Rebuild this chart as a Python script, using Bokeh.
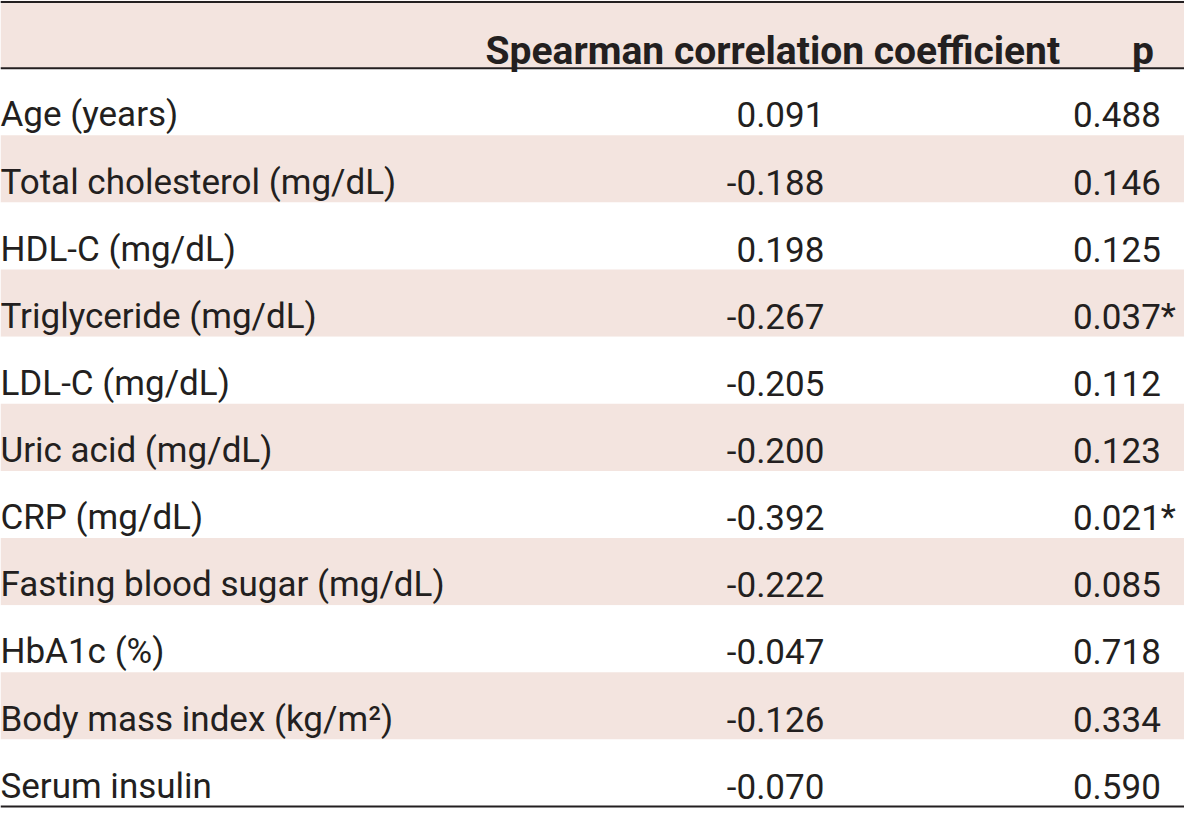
from bokeh.plotting import figure
from bokeh.models import ColumnDataSource, Range1d, Span
from bokeh.core.properties import value
from bokeh.embed import file_html
from bokeh.resources import INLINE

# ---- data ----
variables = ["Age (years)", "Total cholesterol (mg/dL)", "HDL-C (mg/dL)",
             "Triglyceride (mg/dL)", "LDL-C (mg/dL)", "Uric acid (mg/dL)",
             "CRP (mg/dL)", "Fasting blood sugar (mg/dL)", "HbA1c (%)",
             "Body mass index (kg/m\u00b2)", "Serum insulin"]
coefficients = ["0.091", "-0.188", "0.198", "-0.267", "-0.205", "-0.200",
                "-0.392", "-0.222", "-0.047", "-0.126", "-0.070"]
p_values = ["0.488", "0.146", "0.125", "0.037", "0.112", "0.123",
            "0.021", "0.085", "0.718", "0.334", "0.590"]
significant = [False, False, False, True, False, False,
               True, False, False, False, False]
headers = ["Spearman correlation coefficient", "p"]

# ---- layout (in reference pixel units) ----
W, H = 1200, 824
HEAD_TOP, HEAD_BOT, TABLE_BOT = 1.5, 69.0, 822.0
n = len(variables)
rh = (TABLE_BOT - HEAD_BOT) / n
PINK = "#f3e4df"
INK = "#231f20"
FONT = "Roboto"
FS = "35px"
HFS = "39px"

tops = [HEAD_BOT + i * rh for i in range(n)]
bots = [t + rh for t in tops]
centers = [t + rh / 2 for t in tops]
baselines = [c + 13.5 for c in centers]
fills = [PINK if i % 2 == 1 else "#ffffff" for i in range(n)]

src = ColumnDataSource(dict(
    var=variables, coef=coefficients, p=p_values,
    star=["*" if s else "" for s in significant],
    top=tops, bottom=bots, y=baselines, fill=fills,
    left=[0] * n, right=[W] * n,
))

p = figure(width=1184, height=808, output_backend="svg", toolbar_location=None,
           x_range=Range1d(0, W), y_range=Range1d(H, 0),
           min_border=0, outline_line_color=None)
p.axis.visible = False
p.grid.visible = False
p.background_fill_color = "white"
p.border_fill_color = "white"

# header band
p.quad(left=[0], right=[W], top=[0], bottom=[HEAD_BOT], fill_color=PINK, line_color=None)
# row bands
p.quad(left="left", right="right", top="top", bottom="bottom", fill_color="fill",
       line_color=None, source=src)

# rules
for yy in (HEAD_TOP, HEAD_BOT, TABLE_BOT):
    p.add_layout(Span(location=yy, dimension="width", line_color=INK, line_width=2))

# header text
p.text(x=[1074], y=[51], text=[headers[0]], text_align="right", text_baseline="alphabetic",
       text_font=value(FONT), text_font_style="bold", text_font_size=HFS, text_color=INK)
p.text(x=[1158], y=[51], text=[headers[1]], text_align="center", text_baseline="alphabetic",
       text_font=value(FONT), text_font_style="bold", text_font_size=HFS, text_color=INK)

# body text
p.text(x=0, y="y", text="var", source=src, text_align="left", text_baseline="alphabetic",
       text_font=value(FONT), text_font_size=FS, text_color=INK)
p.text(x=835, y="y", text="coef", source=src, text_align="right", text_baseline="alphabetic",
       text_font=value(FONT), text_font_size=FS, text_color=INK)
p.text(x=1176, y="y", text="p", source=src, text_align="right", text_baseline="alphabetic",
       text_font=value(FONT), text_font_size=FS, text_color=INK)
p.text(x=1176, y="y", text="star", source=src, text_align="left", text_baseline="alphabetic",
       text_font=value(FONT), text_font_size=FS, text_color=INK)

open("out.html", "w").write(file_html(p, INLINE))
